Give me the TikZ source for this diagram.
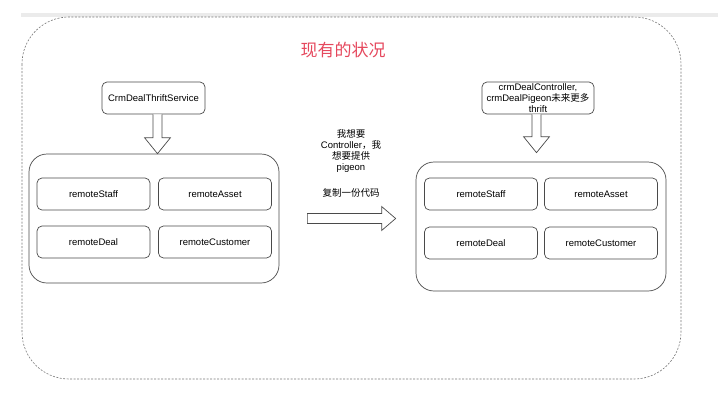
\documentclass[tikz,border=0pt]{standalone}
\usepackage{fontspec}
\setmainfont{Liberation Sans}
\newfontfamily\cjk{Noto Sans CJK SC}
\usetikzlibrary{calc, positioning}
\definecolor{linegray}{HTML}{4A4A4A}
\definecolor{dashgray}{HTML}{777777}
\definecolor{bandgray}{HTML}{EBEBEB}
\definecolor{titlered}{HTML}{E5485D}

\begin{document}
\begin{tikzpicture}[
  x=1pt, y=-1pt,
  box/.style    = {draw=linegray, line width=0.7pt, rounded corners=5pt, minimum width=113pt,
                   minimum height=32pt, inner sep=0pt, align=center, font=\fontsize{9.5}{11}\selectfont},
  group/.style  = {draw=linegray, line width=0.7pt, rounded corners=18pt, minimum width=250pt,
                   minimum height=129pt, inner sep=0pt},
  hollow/.style = {draw=linegray, line width=0.7pt, fill=white, line join=miter},
  note/.style   = {align=center, text width=80pt, inner sep=0pt, font=\fontsize{9.5}{11}\selectfont},
]
  \useasboundingbox (0,0) rectangle (718,400);
  \fill[bandgray] (21,13) rectangle (718,17);
  \draw[dashgray, line width=0.6pt, dash pattern=on 2pt off 1.5pt, rounded corners=47pt]
    (22,17) rectangle (681,379);

  \node[font=\cjk\fontsize{17}{20}\selectfont, text=titlered] (title) at (343,50) {现有的状况};

  % left side: current thrift service
  \node[box, minimum width=103pt] (lsvc) at (153.5,98) {CrmDealThriftService};
  \node[group]                    (lgrp) at (154,218.5) {};
  \node[box] (lstaff) at (93.5,194) {remoteStaff};
  \node[box] (lasset) at (215,194)  {remoteAsset};
  \node[box] (ldeal)  at (93.5,242) {remoteDeal};
  \node[box] (lcust)  at (215,242)  {remoteCustomer};

  % right side: copied code
  \node[box, minimum width=112pt] (rsvc) at (538,98)
    {crmDealController,\\crmDealPigeon{\cjk 未来更多}\\thrift};
  \node[group]                    (rgrp) at (541,226.5) {};
  \node[box] (rstaff) at (481,194) {remoteStaff};
  \node[box] (rasset) at (601,194) {remoteAsset};
  \node[box] (rdeal)  at (481,243) {remoteDeal};
  \node[box] (rcust)  at (601,243) {remoteCustomer};

  % hollow arrows
  \coordinate (la) at ($(lsvc.south)+(4,0)$);
  \coordinate (lt) at (la |- lgrp.north);
  \coordinate (ra) at ($(rsvc.south)+(-1.5,0)$);
  \coordinate (rt) at ($(ra |- rgrp.north)+(0,-9)$);
  \foreach \s/\t in {la/lt, ra/rt}
    \draw[hollow] ($(\s)+(-4.5,0)$) -- ($(\t)+(-4.5,-16)$) -- ($(\t)+(-13,-16)$) -- (\t)
      -- ($(\t)+(13,-16)$) -- ($(\t)+(4.5,-16)$) -- ($(\s)+(4.5,0)$);

  \coordinate (cs) at ($(lgrp.east)+(28,0)$);
  \coordinate (ct) at ($(cs -| rgrp.west)+(-20,0)$);
  \draw[hollow] ($(cs)+(0,-5)$) -- ($(ct)+(-14,-5)$) -- ($(ct)+(-14,-12)$) -- (ct)
    -- ($(ct)+(-14,12)$) -- ($(ct)+(-14,5)$) -- ($(cs)+(0,5)$) -- cycle;

  \node[note] (want) at (351,150.5)
    {{\cjk 我想要}\\Controller{\cjk ，我}\\{\cjk 想要提供}\\pigeon};
  \node[note] (copy) at (351,193) {\cjk 复制一份代码};
\end{tikzpicture}
\end{document}
